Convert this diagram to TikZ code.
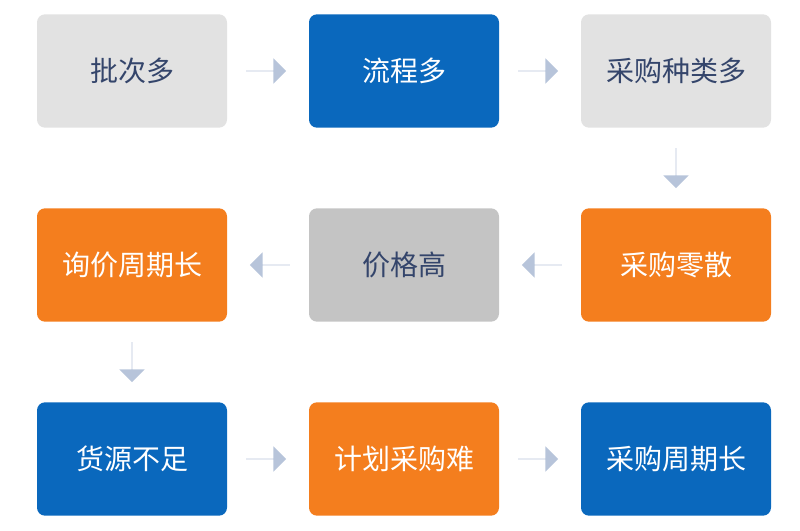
\documentclass[tikz,border=0pt]{standalone}
\usepackage{fontspec}
\setmainfont{Noto Sans CJK SC}
\usetikzlibrary{shapes.arrows}
\definecolor{lg}{HTML}{E2E2E2}
\definecolor{mg}{HTML}{C4C4C4}
\definecolor{bl}{HTML}{0A68BD}
\definecolor{org}{HTML}{F47E1E}
\definecolor{txt}{HTML}{34456B}
\definecolor{ar}{HTML}{B7C4DA}
\begin{document}
\begin{tikzpicture}[x=0.75pt,y=-0.75pt,
 box/.style={rounded corners=6pt,minimum width=142.5pt,minimum height=85pt,inner sep=0pt,font=\fontsize{21}{24}\selectfont},
 gbox/.style={box,fill=lg,text=txt},
 mbox/.style={box,fill=mg,text=txt},
 bbox/.style={box,fill=bl,text=white},
 obox/.style={box,fill=org,text=white},
 arr/.style={single arrow,fill=ar,draw=none,inner sep=0pt,minimum width=19pt,minimum height=30pt,single arrow head extend=8pt}]
\useasboundingbox (0,0) rectangle (800,531);
\node[gbox] (b1) at (132,71) {批次多};
\node[bbox] (b2) at (404,71) {流程多};
\node[gbox] (b3) at (676,71) {采购种类多};
\node[obox] (b4) at (132,265) {询价周期长};
\node[mbox] (b5) at (404,265) {价格高};
\node[obox] (b6) at (676,265) {采购零散};
\node[bbox] (b7) at (132,459) {货源不足};
\node[obox] (b8) at (404,459) {计划采购难};
\node[bbox] (b9) at (676,459) {采购周期长};
\node[arr] (a1) at (266,71) {};
\node[arr] (a2) at (538,71) {};
\node[arr,shape border rotate=270] (a3) at (676,168) {};
\node[arr,shape border rotate=180] (a4) at (542,265) {};
\node[arr,shape border rotate=180] (a5) at (270,265) {};
\node[arr,shape border rotate=270] (a6) at (132,362) {};
\node[arr] (a7) at (266,459) {};
\node[arr] (a8) at (538,459) {};
\end{tikzpicture}
\end{document}
